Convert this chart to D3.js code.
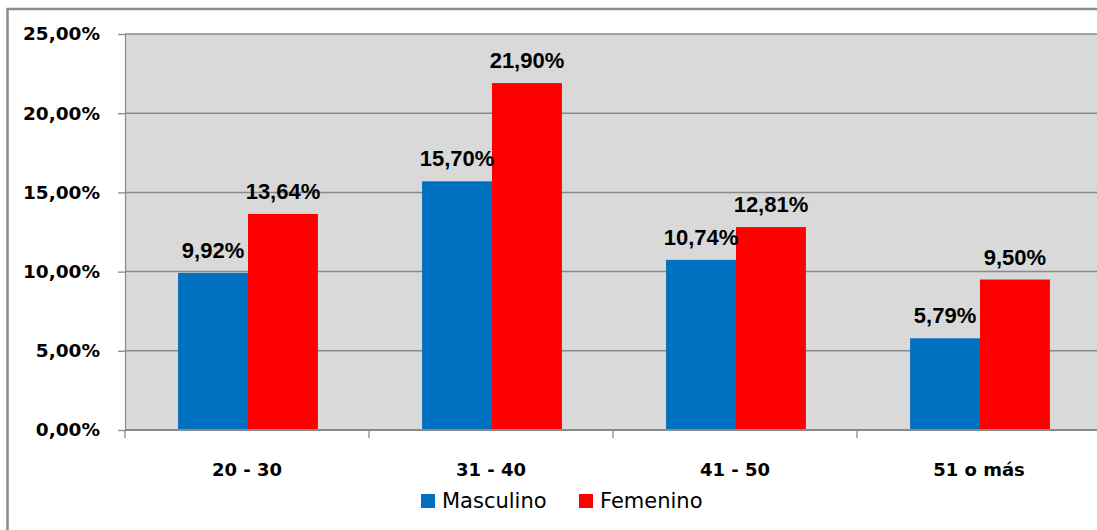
<!DOCTYPE html>
<html>
<head>
<meta charset="utf-8">
<script src="https://cdn.jsdelivr.net/npm/d3@7"></script>
<style>
  html, body { margin: 0; padding: 0; background: #ffffff; }
  svg { display: block; }
</style>
</head>
<body>
<svg id="chart" width="1097" height="530"></svg>
<script>
// Age groups and percentage shares per sex
const categories = ["20 - 30", "31 - 40", "41 - 50", "51 o más"];
const seriesNames = ["Masculino", "Femenino"];
const masculino = [9.92, 15.70, 10.74, 5.79];
const femenino = [13.64, 21.90, 12.81, 9.50];
const yTicks = [0, 5, 10, 15, 20, 25];
const seriesColors = ["#0070c0", "#ff0000"];

const values = [masculino, femenino];
const fmt = v => d3.format(".2f")(v).replace(".", ",") + "%";

const svg = d3.select("#chart");
const W = 1097, H = 530;
const plot = { left: 125, right: 1101, top: 34, bottom: 430 };

// Outer chart frame
svg.append("rect")
  .attr("x", 7.5).attr("y", 9)
  .attr("width", W + 20).attr("height", H + 20)
  .attr("fill", "#ffffff")
  .attr("stroke", "#8c8c8c").attr("stroke-width", 2.5);

const x0 = d3.scaleBand().domain(categories).range([plot.left, plot.right]).padding(0);
const x1 = d3.scaleBand().domain(seriesNames).range([1, x0.bandwidth() + 1])
  .paddingInner(0).paddingOuter(0.745);
const y = d3.scaleLinear().domain([0, 25]).range([plot.bottom, plot.top]);

// Plot area background
svg.append("rect")
  .attr("x", plot.left).attr("y", plot.top)
  .attr("width", plot.right - plot.left).attr("height", plot.bottom - plot.top)
  .attr("fill", "#d9d9d9");

// Horizontal gridlines
svg.append("g").selectAll("line")
  .data(yTicks.filter(t => t > 0))
  .join("line")
  .attr("x1", plot.left).attr("x2", plot.right)
  .attr("y1", d => y(d)).attr("y2", d => y(d))
  .attr("stroke", "#8a8a8a").attr("stroke-width", 1.5);

// Y axis
const yAxis = svg.append("g")
  .attr("transform", `translate(${plot.left},0)`)
  .call(d3.axisLeft(y).tickValues(yTicks).tickSize(7).tickPadding(18).tickFormat(fmt));
yAxis.select(".domain").attr("stroke", "#8a8a8a").attr("stroke-width", 1.2);
yAxis.selectAll(".tick line").attr("stroke", "#8a8a8a").attr("stroke-width", 1.3);
yAxis.selectAll(".tick text")
  .attr("font-family", "DejaVu Sans, sans-serif")
  .attr("font-weight", "bold")
  .attr("font-size", 18.5)
  .attr("fill", "#000");

// Bars
const groups = svg.append("g").selectAll("g")
  .data(categories)
  .join("g")
  .attr("transform", d => `translate(${x0(d)},0)`);

groups.selectAll("rect")
  .data((c, i) => seriesNames.map((s, k) => ({ s, v: values[k][i], k })))
  .join("rect")
  .attr("x", d => x1(d.s))
  .attr("width", x1.bandwidth())
  .attr("y", d => y(d.v))
  .attr("height", d => y(0) - y(d.v))
  .attr("fill", d => seriesColors[d.k]);

// Value labels
groups.selectAll("text")
  .data((c, i) => seriesNames.map((s, k) => ({ s, v: values[k][i], k })))
  .join("text")
  .attr("x", d => x1(d.s) + x1.bandwidth() / 2)
  .attr("y", d => y(d.v) - 15)
  .attr("text-anchor", "middle")
  .attr("font-family", "Liberation Sans, Arial, sans-serif")
  .attr("font-weight", "bold")
  .attr("font-size", 22)
  .attr("fill", "#000")
  .text(d => fmt(d.v));

// X axis
const xAxis = svg.append("g")
  .attr("transform", `translate(0,${plot.bottom})`)
  .call(d3.axisBottom(x0).tickSize(0).tickPadding(33));
xAxis.select(".domain").remove();
xAxis.selectAll(".tick text")
  .attr("font-family", "DejaVu Sans, sans-serif")
  .attr("font-weight", "bold")
  .attr("font-size", 18)
  .attr("fill", "#000");

svg.append("line")
  .attr("x1", plot.left).attr("x2", plot.right)
  .attr("y1", plot.bottom).attr("y2", plot.bottom)
  .attr("stroke", "#8a8a8a").attr("stroke-width", 2);

// Category boundary ticks
svg.append("g").selectAll("line")
  .data(categories.map(c => x0(c)).concat([plot.right]))
  .join("line")
  .attr("x1", d => d).attr("x2", d => d)
  .attr("y1", plot.bottom).attr("y2", plot.bottom + 8)
  .attr("stroke", "#8a8a8a").attr("stroke-width", 1.3);

// Legend
const legendX = [421, 579];
const legend = svg.append("g").selectAll("g")
  .data(seriesNames)
  .join("g")
  .attr("transform", (d, i) => `translate(${legendX[i]},494)`);
legend.append("rect")
  .attr("width", 14).attr("height", 14)
  .attr("fill", (d, i) => seriesColors[i]);
legend.append("text")
  .attr("x", 21).attr("y", 14)
  .attr("font-family", "DejaVu Sans, sans-serif")
  .attr("font-size", 21)
  .attr("fill", "#000")
  .text(d => d);
</script>
</body>
</html>
